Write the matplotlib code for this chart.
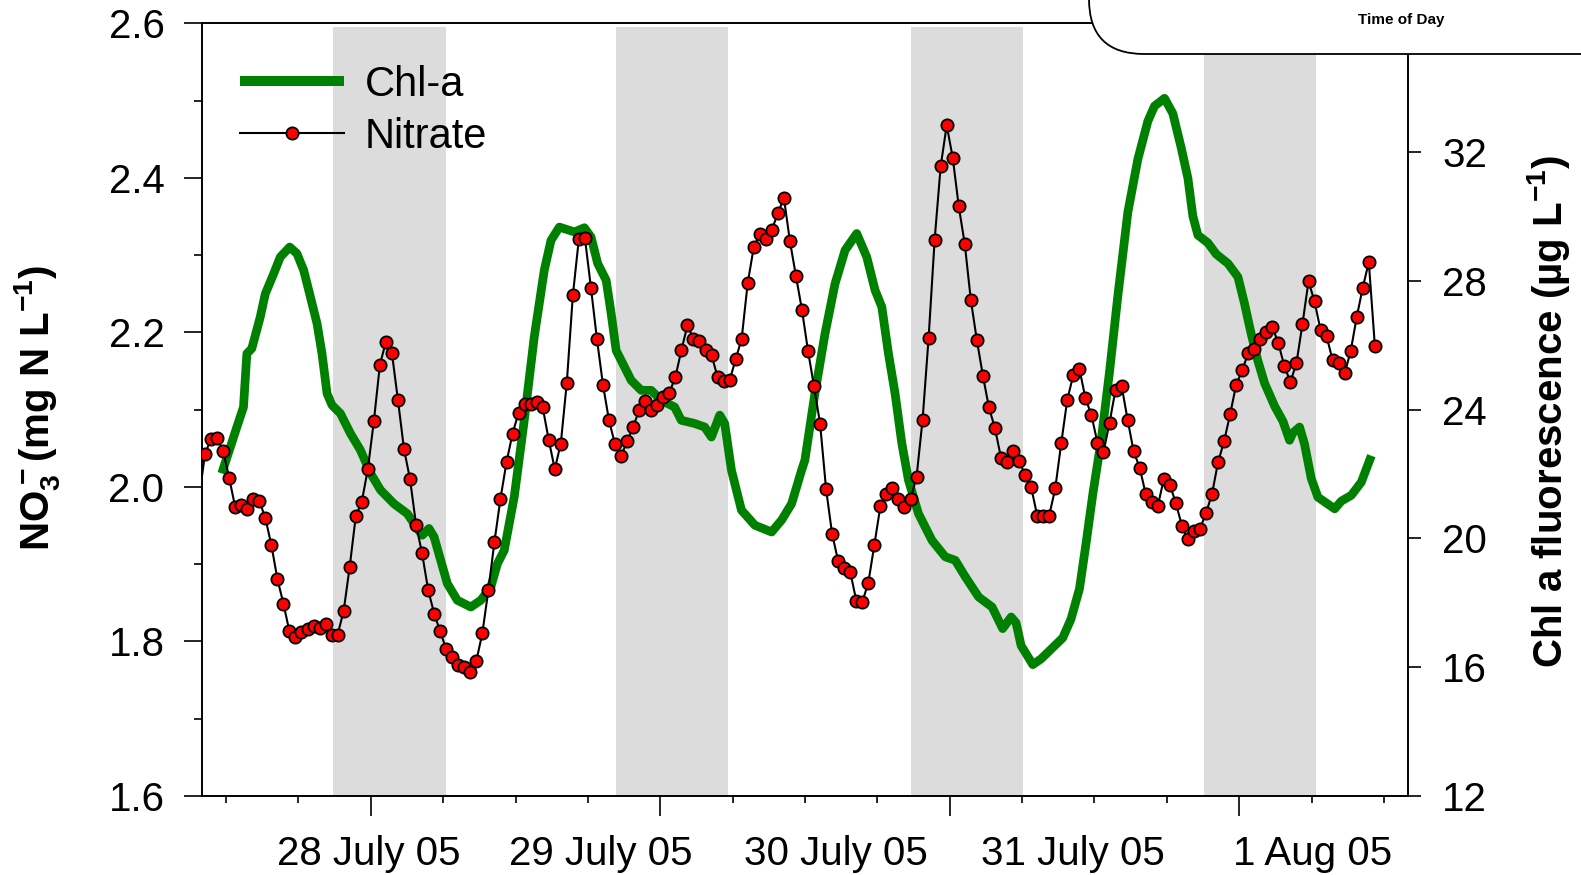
import numpy as np
import matplotlib
matplotlib.use("Agg")
import matplotlib.pyplot as plt
import matplotlib.ticker as mticker
import matplotlib.transforms as mtransforms
from matplotlib.patches import FancyBboxPatch

plt.rcParams["font.family"] = ["Liberation Sans", "DejaVu Sans"]
plt.rcParams["mathtext.default"] = "regular"

# ── data (time in hours from 28 July 2005 00:00) ──────────────────
NITRATE_START = -13.75     # first sample, 27 July 10:15
NITRATE_STEP = 0.5         # half-hourly samples
nitrate = [
    2.043, 2.062, 2.063, 2.047, 2.012, 1.974, 1.976, 1.971, 1.985, 1.982,
    1.960, 1.925, 1.881, 1.849, 1.813, 1.806, 1.812, 1.816, 1.820, 1.818,
    1.823, 1.808, 1.809, 1.840, 1.897, 1.962, 1.981, 2.023, 2.085, 2.158,
    2.188, 2.173, 2.112, 2.049, 2.010, 1.951, 1.914, 1.867, 1.836, 1.813,
    1.790, 1.780, 1.770, 1.767, 1.761, 1.775, 1.811, 1.867, 1.929, 1.985,
    2.032, 2.069, 2.096, 2.107, 2.107, 2.110, 2.103, 2.061, 2.023, 2.056,
    2.135, 2.248, 2.321, 2.322, 2.258, 2.191, 2.132, 2.086, 2.055, 2.040,
    2.059, 2.078, 2.099, 2.111, 2.099, 2.106, 2.116, 2.122, 2.142, 2.177,
    2.209, 2.192, 2.189, 2.177, 2.171, 2.142, 2.137, 2.138, 2.165, 2.192,
    2.264, 2.310, 2.327, 2.321, 2.333, 2.354, 2.374, 2.318, 2.273, 2.229,
    2.176, 2.130, 2.082, 1.997, 1.939, 1.904, 1.895, 1.890, 1.853, 1.851,
    1.876, 1.925, 1.975, 1.991, 1.998, 1.984, 1.974, 1.984, 2.013, 2.087,
    2.193, 2.320, 2.415, 2.468, 2.426, 2.363, 2.314, 2.242, 2.190, 2.144,
    2.103, 2.076, 2.038, 2.032, 2.047, 2.033, 2.016, 2.000, 1.963, 1.963,
    1.963, 1.998, 2.057, 2.113, 2.145, 2.153, 2.115, 2.093, 2.057, 2.045,
    2.083, 2.126, 2.131, 2.087, 2.046, 2.025, 1.991, 1.981, 1.975, 2.010,
    2.003, 1.979, 1.950, 1.932, 1.943, 1.946, 1.966, 1.991, 2.032, 2.059,
    2.094, 2.132, 2.151, 2.173, 2.178, 2.192, 2.201, 2.207, 2.186, 2.156,
    2.136, 2.160, 2.211, 2.266, 2.240, 2.203, 2.195, 2.164, 2.160, 2.147,
    2.176, 2.220, 2.258, 2.291, 2.183,
]
# the sample just before the window (only its line segment shows)
nitrate_lead_t = [-14.25, NITRATE_START]
nitrate_lead = [1.985, nitrate[0]]

chl_t = [
    -12.36, -11.11, -10.56, -10.28, -9.87, -9.17, -8.75, -8.06, -7.51, -6.73,
    -6.13, -5.57, -5.01, -4.46, -4.05, -3.63, -3.22, -2.52, -1.69, -0.86,
    -0.02, 0.81, 1.91, 3.02, 3.85, 4.26, 4.82, 5.24, 5.79, 6.34,
    7.17, 8.29, 9.12, 9.95, 10.50, 11.06, 11.89, 12.72, 13.55, 14.38,
    14.94, 15.63, 16.88, 17.71, 18.26, 18.81, 19.51, 19.93, 20.34, 21.03,
    21.59, 22.42, 23.25, 24.08, 25.19, 25.74, 26.85, 27.68, 28.24, 28.93,
    29.34, 29.90, 30.73, 31.84, 33.23, 34.06, 34.89, 35.72, 35.99, 36.82,
    37.66, 38.49, 39.32, 40.29, 41.12, 41.81, 42.37, 42.92, 43.47, 44.03,
    44.58, 45.41, 46.53, 47.63, 48.46, 49.29, 50.40, 51.51, 52.39, 53.09,
    53.50, 53.92, 54.89, 55.58, 56.54, 57.37, 58.06, 58.76, 59.31, 59.87,
    60.56, 61.25, 61.94, 62.77, 63.60, 64.43, 64.98, 65.81, 66.50, 67.19,
    67.75, 68.16, 68.58, 69.41, 70.10, 71.07, 71.90, 72.44, 73.00, 73.55,
    74.11, 74.94, 75.63, 76.18, 76.46, 77.01, 77.42, 77.98, 78.53, 79.23,
    79.92, 80.47, 81.30, 82.13, 82.96,
]
chl = [
    22.02, 23.46, 24.08, 25.74, 25.90, 26.88, 27.60, 28.22, 28.74, 29.05,
    28.85, 28.33, 27.50, 26.67, 25.74, 24.50, 24.14, 23.88, 23.26, 22.74,
    22.02, 21.50, 21.08, 20.77, 20.31, 20.10, 20.31, 20.05, 19.32, 18.60,
    18.08, 17.87, 18.08, 18.49, 19.22, 19.63, 21.29, 23.67, 26.26, 28.33,
    29.26, 29.67, 29.52, 29.65, 29.36, 28.54, 28.02, 26.98, 25.84, 25.33,
    24.91, 24.60, 24.60, 24.29, 24.08, 23.67, 23.57, 23.46, 23.15, 23.83,
    23.57, 22.12, 20.88, 20.41, 20.20, 20.57, 21.08, 22.12, 22.43, 24.50,
    26.36, 27.91, 28.95, 29.47, 28.74, 27.71, 27.19, 25.74, 24.50, 22.95,
    21.81, 20.77, 19.94, 19.43, 19.32, 18.81, 18.18, 17.87, 17.20, 17.56,
    17.38, 16.67, 16.08, 16.26, 16.61, 16.91, 17.50, 18.44, 19.86, 21.39,
    23.05, 25.17, 27.53, 30.13, 31.78, 32.96, 33.43, 33.67, 33.20, 32.14,
    31.19, 30.01, 29.42, 29.18, 28.83, 28.54, 28.12, 27.30, 26.35, 25.52,
    24.82, 24.11, 23.64, 23.05, 23.28, 23.46, 22.93, 21.86, 21.28, 21.10,
    20.92, 21.16, 21.34, 21.75, 22.57,
]

# night periods (hours)
night_start = [-3.1, 20.3, 44.8, 69.1]
night_end = [6.2, 29.6, 54.1, 78.4]

day_labels = ["28 July 05", "29 July 05", "30 July 05", "31 July 05", "1 Aug 05"]
day_label_pos = [-0.2, 19.1, 38.6, 58.2, 78.1]

# ── figure ─────────────────────────────────────────────────────────
W, H = 1581, 875
fig = plt.figure(figsize=(W / 100, H / 100), dpi=100, facecolor="white")
ax = fig.add_axes([202 / W, 1 - 796 / H, 1206 / W, 772.7 / H])
ax2 = ax.twinx()
ax.set_zorder(ax2.get_zorder() + 1)
ax.patch.set_visible(False)

for s, e in zip(night_start, night_end):
    ax2.axvspan(s, e, ymin=0, ymax=0.9956, color="#DCDCDC", lw=0, zorder=0)

ax2.plot(chl_t, chl, color="#008000", lw=6.3, solid_capstyle="butt", zorder=2)

nitrate_t = NITRATE_START + NITRATE_STEP * np.arange(len(nitrate))
ax.plot(nitrate_lead_t, nitrate_lead, color="black", lw=1.5, zorder=3)
ax.plot(nitrate_t, nitrate, color="black", lw=1.5, marker="o", ms=8.8,
        mfc="#FF0000", mec="black", mew=1.3, zorder=3, label="Nitrate")

ax.set_xlim(-14, 86)
ax.set_ylim(1.6, 2.6)
ax2.set_ylim(12, 36)

ax.xaxis.set_major_locator(mticker.MultipleLocator(24))
ax.xaxis.set_minor_locator(mticker.MultipleLocator(6))
ax.yaxis.set_major_locator(mticker.MultipleLocator(0.2))
ax.yaxis.set_minor_locator(mticker.MultipleLocator(0.1))
ax.yaxis.set_major_formatter(mticker.FormatStrFormatter("%.1f"))
ax2.set_yticks([12, 16, 20, 24, 28, 32])

ax.tick_params(axis="x", which="major", length=14.4, width=1.2, labelbottom=False)
ax.tick_params(axis="x", which="minor", length=5, width=1.2)
ax.tick_params(axis="y", which="major", length=13, width=1.2, labelsize=29, pad=14)
ax.tick_params(axis="y", which="minor", length=6, width=1.2)
ax2.tick_params(axis="y", which="major", length=9.5, width=1.2, labelsize=29, pad=15)
ax2.tick_params(axis="x", which="both", bottom=False, labelbottom=False)

for a in (ax, ax2):
    for sp in a.spines.values():
        sp.set_linewidth(1.2)

# day labels (placed as in the original, not under the day ticks)
tr = mtransforms.blended_transform_factory(ax.transData, fig.transFigure)
for lab, pos in zip(day_labels, day_label_pos):
    ax.text(pos, 1 - 865 / H, lab, transform=tr, ha="center", va="baseline",
            fontsize=29, clip_on=False)

fig.text(37 / W, 1 - 408 / H, "NO$_3^-$(mg N L$^{-1}$)", rotation=90,
         ha="center", va="center", fontsize=29, fontweight="bold")
fig.text(1548 / W, 1 - 411 / H, "Chl a fluorescence (µg L$^{-1}$)", rotation=90,
         ha="center", va="center", fontsize=29, fontweight="bold")

# legend
chl_handle = plt.Line2D([], [], color="#008000", lw=7.2, solid_capstyle="butt")
nit_handle = plt.Line2D([], [], color="black", lw=1.5, marker="o", ms=8.8,
                        mfc="#FF0000", mec="black", mew=1.3)
leg = ax.legend([chl_handle, nit_handle], ["Chl-a", "Nitrate"],
                loc="upper left", bbox_to_anchor=(240 / W, 1 - 65 / H),
                bbox_transform=fig.transFigure, frameon=False, fontsize=30,
                handlelength=2.5, handletextpad=0.5, labelspacing=0.28,
                borderpad=0, borderaxespad=0)

# clipped corner of the neighbouring panel
box = FancyBboxPatch((1089, H - 54), 700, 300,
                     boxstyle="round,pad=0,rounding_size=55",
                     transform=mtransforms.IdentityTransform(),
                     facecolor="white", edgecolor="black", lw=1.3, zorder=10)
fig.add_artist(box)
fig.text(1401 / W, 1 - 19.6 / H, "Time of Day", ha="center", va="center",
         fontsize=11, fontweight="bold", zorder=11)

fig.savefig("out.png", dpi=100, facecolor="white")
